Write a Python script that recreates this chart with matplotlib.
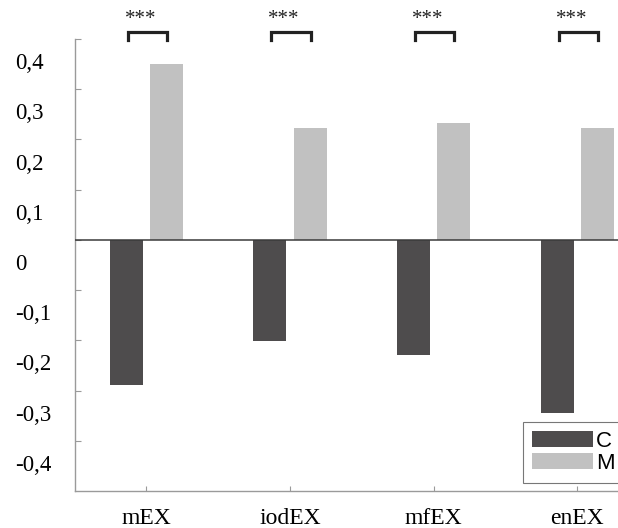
import matplotlib
matplotlib.use("Agg")
import matplotlib.pyplot as plt
import numpy as np

# values
categories = ['mEX', 'iodEX', 'mfEX', 'enEX']
c_values = [-0.289, -0.202, -0.23, -0.345]
m_values = [0.351, 0.222, 0.232, 0.222]
stars = ['***', '***', '***', '***']

y_ticks = [0.4, 0.3, 0.2, 0.1, 0, -0.1, -0.2, -0.3, -0.4]
y_labels = ['0,4', '0,3', '0,2', '0,1', '0', '-0,1', '-0,2', '-0,3', '-0,4']

c_color = '#4e4c4d'
m_color = '#c1c1c1'
axis_grey = '#9a9a9a'

fig = plt.figure(figsize=(6.18, 5.28), dpi=100)
ax = fig.add_axes([0.1206, 0.0701, 0.9296, 0.856])

x = np.arange(len(categories))
width = 0.23
off = 0.14

ax.bar(x - off, c_values, width, color=c_color, label='C', zorder=2)
ax.bar(x + off, m_values, width, color=m_color, label='M', zorder=2)

# zero line
ax.axhline(0, color='#3a3a3a', lw=1.1, zorder=3)

ax.set_xlim(-0.5, len(categories) - 0.5)
ax.set_ylim(-0.5, 0.4)

for s in ['top', 'right']:
    ax.spines[s].set_visible(False)
for s in ['left', 'bottom']:
    ax.spines[s].set_color(axis_grey)
    ax.spines[s].set_linewidth(1)

# major ticks carry the marks, the labels sit a bit lower (minor ticks)
ax.set_yticks(y_ticks)
ax.set_yticklabels([])
ax.set_yticks([v - 0.044 for v in y_ticks], minor=True)
ax.set_yticklabels(y_labels, minor=True, family='Liberation Serif', fontsize=16.5)
ax.tick_params(axis='y', which='major', direction='in', length=4.5, color=axis_grey)
ax.tick_params(axis='y', which='minor', length=0, pad=42.5)
for lab in ax.get_yticklabels(minor=True):
    lab.set_horizontalalignment('left')

ax.set_xticks(x)
ax.set_xticklabels(categories, family='Liberation Serif', fontsize=17)
ax.tick_params(axis='x', direction='in', length=3.5, color=axis_grey, pad=12)

# significance brackets
for i, s in enumerate(stars):
    x0 = x[i] - 0.13
    x1 = x[i] + 0.145
    ax.plot([x0, x0, x1, x1], [0.398, 0.414, 0.414, 0.398], color='#222222',
            lw=2.3, clip_on=False, solid_joinstyle='miter', zorder=4)
    ax.text(x[i] - 0.04, 0.438, s, ha='center', va='center',
            family='Liberation Serif', fontsize=15, color='#222222')

leg = ax.legend(loc='upper left', bbox_to_anchor=(0.846, 0.201),
                bbox_transform=fig.transFigure, borderaxespad=0,
                prop={'family': 'Liberation Sans', 'size': 16},
                fancybox=False, frameon=True, handlelength=2.75,
                handleheight=0.75, handletextpad=0.15, labelspacing=0.05,
                borderpad=0.4)
leg.get_frame().set_edgecolor('#555555')
leg.get_frame().set_linewidth(0.8)

fig.savefig('out.png', dpi=100)
